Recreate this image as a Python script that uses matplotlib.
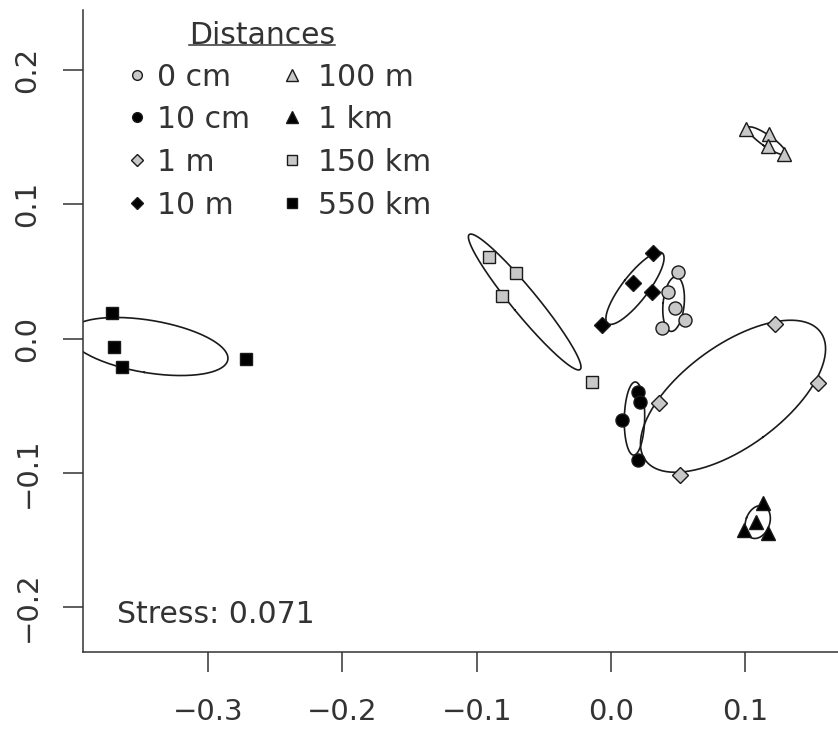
import numpy as np
import matplotlib
matplotlib.use("Agg")
import matplotlib.pyplot as plt
from matplotlib.lines import Line2D

plt.rcParams["font.family"] = ["DejaVu Sans"]

# NMDS site scores
groups = ["0 cm", "10 cm", "1 m", "10 m", "100 m", "1 km", "150 km", "550 km"]

x_0cm = [0.0499, 0.0425, 0.0477, 0.0551, 0.0380]
y_0cm = [0.0495, 0.0346, 0.0227, 0.0138, 0.0078]
x_10cm = [0.0201, 0.0216, 0.0082, 0.0201]
y_10cm = [-0.0399, -0.0473, -0.0607, -0.0905]
x_1m = [0.1222, 0.1542, 0.0358, 0.0514]
y_1m = [0.0108, -0.0331, -0.0480, -0.1017]
x_10m = [0.0313, 0.0164, 0.0305, -0.0067]
y_10m = [0.0637, 0.0413, 0.0346, 0.0101]
x_100m = [0.1006, 0.1177, 0.1169, 0.1289]
y_100m = [0.1561, 0.1523, 0.1434, 0.1374]
x_1km = [0.1132, 0.1080, 0.0991, 0.1169]
y_1km = [-0.1225, -0.1367, -0.1426, -0.1449]
x_150km = [-0.0909, -0.0708, -0.0812, -0.0142]
y_150km = [0.0607, 0.0488, 0.0317, -0.0324]
x_550km = [-0.3717, -0.3702, -0.3642, -0.2719]
y_550km = [0.0190, -0.0063, -0.0212, -0.0153]

xs = [x_0cm, x_10cm, x_1m, x_10m, x_100m, x_1km, x_150km, x_550km]
ys = [y_0cm, y_10cm, y_1m, y_10m, y_100m, y_1km, y_150km, y_550km]

stress = 0.071

GRAY = "#c8c8c8"
INK = "#333333"
EDGE = "#1a1a1a"
FS = 21.5
# marker, fill, size in plot, size in legend (pt)
styles = [("o", GRAY, 9.4, 7.0), ("o", "black", 9.4, 7.0),
          ("D", GRAY, 7.8, 6.0), ("D", "black", 7.8, 6.0),
          ("^", GRAY, 10.5, 8.0), ("^", "black", 10.5, 8.0),
          ("s", GRAY, 8.8, 6.5), ("s", "black", 8.8, 6.5)]


def sd_ellipse(x, y, scale=1.22, n=200):
    pts = np.column_stack([x, y])
    c = pts.mean(axis=0)
    cov = np.cov(pts, rowvar=False)
    vals, vecs = np.linalg.eigh(cov)
    t = np.linspace(0, 2 * np.pi, n)
    circ = np.vstack([np.cos(t), np.sin(t)])
    e = vecs @ (np.sqrt(np.maximum(vals, 0))[:, None] * circ) * scale
    return c[0] + e[0], c[1] + e[1]


W, H = 838, 729
AX_L, AX_R, AX_T, AX_B = 83, 838, 10, 652
fig = plt.figure(figsize=(W / 100, H / 100), dpi=100)
ax = fig.add_axes([AX_L / W, (H - AX_B) / H, (AX_R - AX_L) / W,
                   (AX_B - AX_T) / H])


def axfrac(px, py):
    # pixel position -> axes fraction (for legend layout only)
    return (px - AX_L) / (AX_R - AX_L), (AX_B - py) / (AX_B - AX_T)


for x, y in zip(xs, ys):
    ex, ey = sd_ellipse(x, y)
    ax.plot(ex, ey, color=EDGE, lw=1.2, zorder=2)

for x, y, (m, fc, ms, _) in zip(xs, ys, styles):
    ax.plot(x, y, ls="none", marker=m, ms=ms, mfc=fc, mec=EDGE,
            mew=1.0, zorder=3, clip_on=False)

ax.set_xlim(-0.3933, 0.1691)
ax.set_ylim(-0.2335, 0.2447)
ax.set_xticks([-0.3, -0.2, -0.1, 0.0, 0.1])
ax.set_yticks([-0.2, -0.1, 0.0, 0.1, 0.2])
ax.set_xticklabels(["\u22120.3", "\u22120.2", "\u22120.1", "0.0", "0.1"])
ax.set_yticklabels(["\u22120.2", "\u22120.1", "0.0", "0.1", "0.2"],
                   rotation=90, va="center")
ax.tick_params(length=14.4, width=1.1, color=INK, labelcolor=INK,
               labelsize=21)
ax.tick_params(axis="x", pad=19)
ax.tick_params(axis="y", pad=15.5)
ax.spines["top"].set_visible(False)
ax.spines["right"].set_visible(False)
for s in ("left", "bottom"):
    ax.spines[s].set_color(INK)
    ax.spines[s].set_linewidth(1.1)

sx, sy = axfrac(117, 612 + 11)
ax.text(sx, sy, f"Stress: {stress}", transform=ax.transAxes,
        fontsize=FS, color=INK, va="baseline", ha="left")

# legend drawn by hand, R style: two columns, underlined title
tx, ty = axfrac(262, 33 + 11)
title = ax.text(tx, ty, "Distances", transform=ax.transAxes, fontsize=FS,
                color=INK, ha="center", va="baseline")
row_py = [75, 117, 160, 203]
col_px = [(137, 157), (292, 318)]
for i, (lab, (m, fc, _, lms)) in enumerate(zip(groups, styles)):
    mx_px, lx_px = col_px[i // 4]
    py = row_py[i % 4]
    mx, my = axfrac(mx_px, py)
    ax.plot([mx], [my], transform=ax.transAxes, ls="none", marker=m,
            ms=lms, mfc=fc, mec=EDGE, mew=1.0, clip_on=False)
    lx, ly = axfrac(lx_px, py + 11)
    ax.text(lx, ly, lab, transform=ax.transAxes, fontsize=FS, color=INK,
            ha="left", va="baseline")

fig.canvas.draw()
bb = title.get_window_extent()
inv = fig.transFigure.inverted()
(x0, y0), (x1, _) = inv.transform([[bb.x0, bb.y0], [bb.x1, bb.y1]])
uy = (H - 45) / H
fig.add_artist(Line2D([x0, x1], [uy, uy], color=INK, lw=1.1,
                      transform=fig.transFigure))

fig.savefig("out.png", dpi=100)
